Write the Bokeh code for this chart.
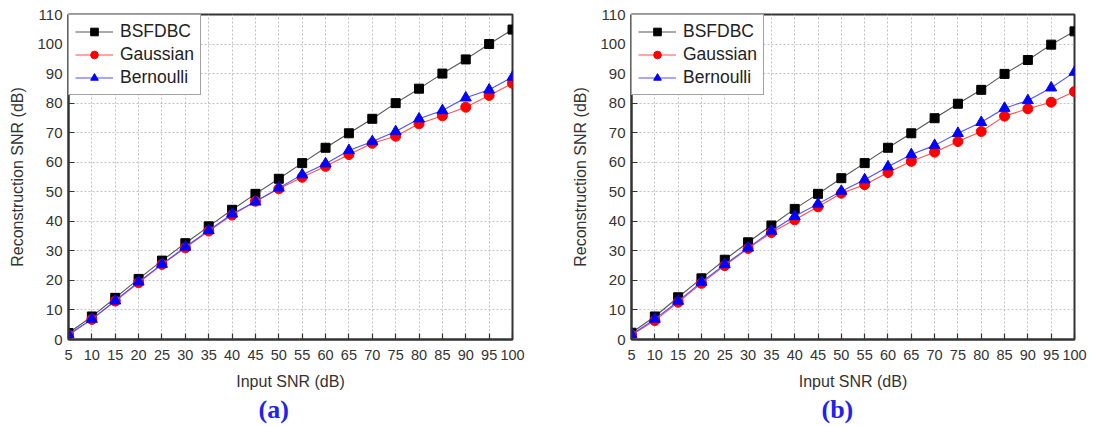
from bokeh.plotting import figure
from bokeh.layouts import row
from bokeh.models import Range1d, FixedTicker, Legend, LegendItem, Title
from bokeh.embed import file_html
from bokeh.resources import INLINE

x_snr = [5, 10, 15, 20, 25, 30, 35, 40, 45, 50, 55, 60, 65, 70, 75, 80, 85, 90, 95, 100]

bsfdbc_a = [2.2, 7.8, 14.1, 20.5, 26.7, 32.6, 38.3, 43.9, 49.3, 54.4, 59.7, 64.9, 69.8, 74.7, 80.0, 84.9, 90.0, 94.8, 100.0, 104.9]
gaussian_a = [1.5, 6.8, 13.0, 19.2, 25.4, 31.0, 36.7, 42.1, 46.8, 51.0, 54.9, 58.6, 62.6, 66.4, 68.8, 73.0, 75.7, 78.6, 82.6, 86.7]
bernoulli_a = [1.7, 6.9, 13.1, 19.5, 25.5, 31.3, 36.9, 42.5, 46.6, 51.3, 55.8, 59.5, 64.0, 67.0, 70.4, 74.7, 77.5, 81.8, 84.5, 88.8]

bsfdbc_b = [2.3, 7.8, 14.3, 20.7, 27.0, 32.9, 38.6, 44.2, 49.3, 54.6, 59.7, 64.9, 69.8, 74.9, 79.8, 84.5, 89.9, 94.6, 99.8, 104.3]
gaussian_b = [1.5, 6.4, 12.6, 19.0, 25.0, 30.8, 36.2, 40.5, 44.9, 49.5, 52.4, 56.5, 60.3, 63.4, 67.0, 70.4, 75.6, 78.1, 80.3, 83.9]
bernoulli_b = [1.7, 6.9, 13.0, 19.4, 25.4, 31.0, 36.7, 41.7, 45.9, 50.2, 54.1, 58.5, 62.6, 65.7, 69.8, 73.5, 78.3, 80.9, 85.2, 90.5]

x_ticks = list(range(5, 101, 5))
y_ticks = list(range(0, 111, 10))
series_names = ["BSFDBC", "Gaussian", "Bernoulli"]

FONT = "Liberation Sans"


def make_panel(bs, ga, be, caption, width, bl, br):
    p = figure(width=width, height=426, output_backend="svg", toolbar_location=None,
               x_range=Range1d(5, 100), y_range=Range1d(0, 110),
               min_border_left=bl, min_border_right=br, min_border_top=14, min_border_bottom=87)
    p.outline_line_color = "#333333"
    p.outline_line_width = 2
    p.background_fill_color = "white"
    p.border_fill_color = "white"

    for ax in (p.xaxis[0], p.yaxis[0]):
        ax.axis_line_color = "#333333"
        ax.axis_line_width = 2
        ax.major_tick_in = 6
        ax.major_tick_out = 0
        ax.minor_tick_line_color = None
        ax.major_tick_line_color = "#333333"
        ax.major_tick_line_width = 1.2
        ax.major_label_text_font = FONT
        ax.major_label_text_color = "#333333"
        ax.axis_label_text_font = FONT
        ax.axis_label_text_font_size = "16px"
        ax.axis_label_text_font_style = "normal"
        ax.axis_label_text_color = "#333333"
    p.xaxis.major_label_text_font_size = "14.5px"
    p.yaxis.major_label_text_font_size = "15px"
    p.xaxis.ticker = FixedTicker(ticks=x_ticks)
    p.yaxis.ticker = FixedTicker(ticks=y_ticks)
    p.xaxis.axis_label = "Input SNR (dB)"
    p.yaxis.axis_label = "Reconstruction SNR (dB)"
    p.xaxis.major_label_standoff = 10
    p.xaxis.axis_label_standoff = 10
    p.yaxis.major_label_standoff = 6
    p.yaxis.axis_label_standoff = 8

    for g in (p.xgrid[0], p.ygrid[0]):
        g.grid_line_color = "#c0c0c0"
        g.grid_line_dash = "2 2"
        g.grid_line_width = 1

    l1 = p.line(x_snr, bs, line_color="#555555", line_width=1.1)
    m1 = p.scatter(x_snr, bs, marker="square", size=9, fill_color="black", line_color="black")
    l2 = p.line(x_snr, ga, line_color="#ff5050", line_width=1.1)
    m2 = p.scatter(x_snr, ga, marker="circle", size=10, fill_color="red", line_color="red")
    l3 = p.line(x_snr, be, line_color="#5050ff", line_width=1.1)
    m3 = p.scatter(x_snr, be, marker="triangle", size=11, fill_color="blue", line_color="blue")

    legend = Legend(items=[
        LegendItem(label=series_names[0], renderers=[l1, m1]),
        LegendItem(label=series_names[1], renderers=[l2, m2]),
        LegendItem(label=series_names[2], renderers=[l3, m3]),
    ], location="top_left")
    legend.margin = 0
    legend.padding = 6
    legend.spacing = 2
    legend.glyph_width = 38
    legend.glyph_height = 19
    legend.label_standoff = 7
    legend.label_height = 19
    legend.label_text_font = FONT
    legend.label_text_font_size = "17.5px"
    legend.label_text_color = "#222222"
    legend.border_line_color = "#444444"
    legend.border_line_width = 1.5
    legend.background_fill_alpha = 1
    p.add_layout(legend)

    t = Title(text=caption, align="left", offset=190, text_font="Liberation Serif",
              text_font_size="26px", text_font_style="bold", text_color="#2222ee",
              standoff=0)
    p.add_layout(t, "below")
    return p


p1 = make_panel(bsfdbc_a, gaussian_a, bernoulli_a, "(a)", 563, 68, 51)
p2 = make_panel(bsfdbc_b, gaussian_b, bernoulli_b, "(b)", 531, 68, 20)

layout = row(p1, p2)
open("out.html", "w").write(file_html(layout, INLINE))
